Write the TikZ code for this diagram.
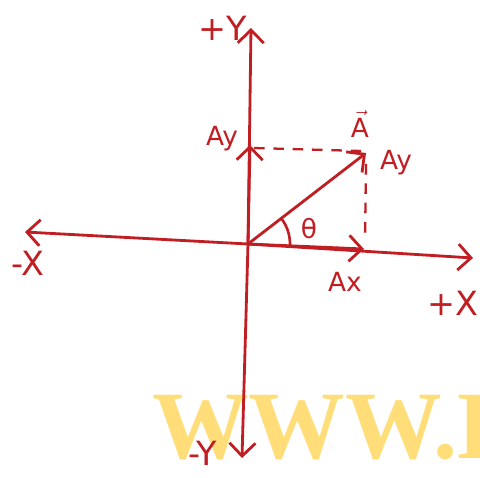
\documentclass[tikz,border=0pt]{standalone}
\usepackage{amsmath}
\usepackage{fontspec}
\setmainfont{DejaVu Sans}
\newfontfamily\markfont{Liberation Serif}
\usepackage{xcolor}
\usetikzlibrary{arrows.meta,positioning,calc}
\definecolor{vecred}{RGB}{192,30,34}
\definecolor{vecmark}{RGB}{255,222,122}
\tikzset{
  vec axis/.style={
    -{Straight Barb[length=2.6mm,width=5.2mm,line width=1.6pt]},
    line width=1.6pt,
    draw=vecred,
  },
  vec dash/.style={
    dash pattern=on 6pt off 5pt,
    line width=1.3pt,
    draw=vecred,
  },
  vec label/.style={
    text=vecred,
    inner sep=1pt,
    font=\fontsize{15}{17}\selectfont,
  },
  vec big/.style={
    vec label,
    font=\fontsize{19}{21}\selectfont,
  },
}

\begin{document}
\begin{tikzpicture}[x=0.02cm,y=-0.02cm]
  \useasboundingbox (0,0) rectangle (480,477);
  \node[text=vecmark, anchor=base west, inner sep=0pt,
    font=\markfont\bfseries\fontsize{55}{57}\selectfont] (mark) at (152,458) {WWW.K};
  % axes
  \coordinate (O) at (248,244);
  \coordinate (xl) at (25,232);
  \coordinate (xr) at (473,258);
  \coordinate (yt) at (251,28);
  \coordinate (yb) at (242,458);
  \draw[vec axis] (O) -- (xr);
  \draw[vec axis] (O) -- (xl);
  \draw[vec axis] (O) -- (yt);
  \draw[vec axis] (O) -- (yb);
  % components
  \coordinate (A) at (366,153);
  \coordinate (Aytip) at (250,145);
  \coordinate (Axtip) at (364,249);
  \coordinate (ayfoot) at (254,148);
  \coordinate (axfoot) at (365,241);
  \draw[vec axis] (O) -- (A);
  \draw[vec axis] (O) -- (Aytip);
  \draw[vec axis] (O) -- (Axtip);
  \draw[vec dash] (ayfoot) -- (362,151);
  \draw[vec dash] (366,164) -- (axfoot);
  \draw[line width=1.5pt, draw=vecred] (O) ++(3.5:42) arc[start angle=3.5, end angle=-37, radius=42];
  % labels
  \node[vec big] (py) at (223,28) {+Y};
  \node[vec big] (my) at (203,453) {-Y};
  \node[vec big] (mx) at (28,263) {-X};
  \node[vec big] (px) at (453,303) {+X};
  \node[vec label] (ayl) at (222,139) {Ay};
  \node[vec label] (ayr) at (396,163) {Ay};
  \node[vec label] (axl) at (345,282) {Ax};
  \node[vec label] (th) at (309,229) {θ};
  \node[vec label] (vA) at (360,124) {$\vec{\text{A}}$};
\end{tikzpicture}
\end{document}
